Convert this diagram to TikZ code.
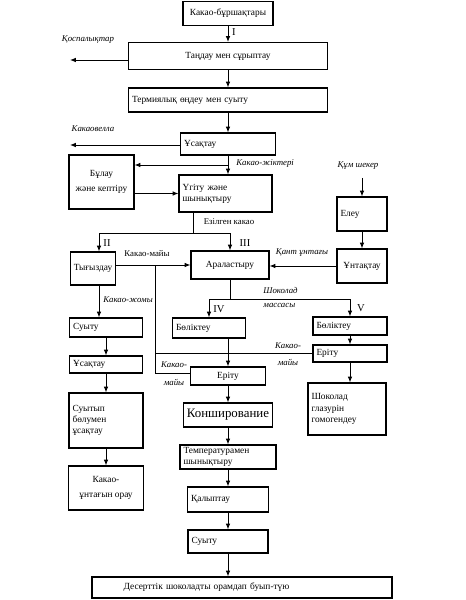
\documentclass[tikz,border=0pt]{standalone}
\usepackage{fontspec}
\setmainfont{Liberation Serif}
\usetikzlibrary{positioning,calc,arrows.meta}
\tikzset{
  wire/.style    = {line width=0.8pt},
  awire/.style   = {line width=0.8pt, -{Latex[length=5pt,width=4pt]}},
  pbox/.code 2 args = {%
    \pgfmathsetlengthmacro\pbw{#1*0.3mm}%
    \pgfmathsetlengthmacro\pbh{#2*0.3mm}%
    \pgfmathsetlengthmacro\pbt{#1*0.3mm-6pt}%
    \tikzset{draw, line width=1pt, fill=white, minimum width=\pbw,
      minimum height=\pbh, inner xsep=3pt, inner ysep=1pt, align=center,
      font=\fontsize{8}{9.5}\selectfont}},
  lft/.style     = {text width=\pbt, align=left},
  lbl/.style     = {font=\fontsize{7.5}{9}\selectfont\itshape, inner sep=1pt},
  lblu/.style    = {font=\fontsize{7.5}{9}\selectfont, inner sep=1pt},
  num/.style     = {font=\fontsize{9}{10}\selectfont, inner sep=1pt},
}

\begin{document}
\begin{tikzpicture}[x=0.3mm,y=-0.3mm]
  \useasboundingbox (0,0) rectangle (465,600);
  % main column
  \node[pbox={90}{24}] (beans) at (228,13.5) {Какао-бұршақтары};
  \node[pbox={199}{27}] (tandau) at (228,56) {Таңдау мен сұрыптау};
  \node[pbox={199}{24},lft] (termiya) at (228,100) {Термиялық өңдеу мен суыту};
  \node[pbox={95}{22},lft] (usaktau1) at (228,144) {Ұсақтау};
  \node[pbox={65}{54}] (bulau) at (101.5,182) {Бұлау\\[4pt]және кептіру};
  \node[pbox={93}{37},lft] (ugitu) at (225.5,193.5) {Үгіту және\\шынықтыру};
  \node[pbox={50}{34},lft] (eleu) at (362,214) {Елеу};
  \node[pbox={50}{34}] (untaktau) at (362,266) {Ұнтақтау};
  \node[pbox={45}{33}] (tygyzdau) at (93,268.5) {Тығыздау};
  \node[pbox={78}{28}] (aralastyru) at (230,265) {Араластыру};
  \node[pbox={73}{19},lft] (suytu1) at (106,327.5) {Суыту};
  \node[pbox={73}{20},lft] (bolikteu1) at (209,328) {Бөліктеу};
  \node[pbox={74}{18},lft] (bolikteu2) at (350,326) {Бөліктеу};
  \node[pbox={73}{17},lft] (usaktau2) at (106,364.5) {Ұсақтау};
  \node[pbox={74}{17},lft] (eritu_r) at (350,353.5) {Еріту};
  \node[pbox={75}{18}] (eritu_c) at (228,376) {Еріту};
  \node[pbox={85}{24},font=\fontsize{11}{13}\selectfont] (konsh) at (228,415) {Конширование};
  \node[pbox={78}{52},lft] (glazur) at (347,409) {Шоколад\\глазурін\\гомогендеу};
  \node[pbox={74}{55},lft] (suytyp) at (106,420.5) {Суытып\\бөлумен\\ұсақтау};
  \node[pbox={96}{24},lft] (temp) at (228,457) {Температурамен\\шынықтыру};
  \node[pbox={75}{44}] (orau) at (106,488) {Какао-\\[3pt]ұнтағын орау};
  \node[pbox={81}{25},lft] (kalyptau) at (228,499.5) {Қалыптау};
  \node[pbox={80}{23},lft] (suytu2) at (228,541.5) {Суыту};
  \node[pbox={300}{21},lft] (final) at (242,587.5) {\hspace{24pt}Десерттік шоколадты орамдап буып-түю};

  % labels
  \node[num] (n1) at (234,32) {I};
  \node[lbl] (implbl) at (88,40) {Қоспалықтар};
  \node[lbl] (vellbl) at (93,129) {Какаовелла};
  \node[lbl,anchor=west] (jklbl) at (235,164) {Какао-жіктері};
  \node[lblu] (ezlbl) at (229,222) {Езілген какао};
  \node[num] (n2) at (107,243) {II};
  \node[num] (n3) at (245,243) {III};
  \node[lblu] (mlbl) at (147,254) {Какао-майы};
  \node[lbl] (kumlbl) at (358,166) {Құм шекер};
  \node[lbl] (kantlbl) at (302,253) {Қант ұнтағы};
  \node[lbl] (zhlbl) at (128,300) {Какао-жомы};
  \node[lbl,anchor=west,align=left] (smlbl) at (262,297.5) {Шоколад\\[3pt]массасы};
  \node[num] (n4) at (219,309) {IV};
  \node[num] (n5) at (361,308) {V};
  \node[lbl,align=center] (mrlbl) at (288,354) {Какао-\\[5pt]майы};
  \node[lbl,align=center] (mclbl) at (174,373.5) {Какао-\\[6pt]майы};

  % connectors
  \coordinate (imp) at (70,60);
  \coordinate (vel) at (70,145);
  \coordinate (jk) at (228,165);
  \coordinate (ez) at (193,233);
  \coordinate (ezL) at (99,233);
  \coordinate (ezR) at (230,233);
  \coordinate (mv) at (155,265);
  \coordinate (mb) at (155,373);
  \coordinate (sm) at (230,299);
  \coordinate (smL) at (209,299);
  \coordinate (smR) at (350,299);
  \coordinate (kum) at (362,178);

  \draw[awire] (beans) -- (tandau);
  \draw[awire] (tandau.west |- imp) -- (imp);
  \draw[awire] (tandau) -- (termiya);
  \draw[awire] (termiya) -- (usaktau1);
  \draw[awire] (usaktau1.west |- vel) -- (vel);
  \draw[awire] (usaktau1.south) -- (usaktau1.south |- ugitu.north);
  \draw[awire] (jk) -- (bulau.east |- jk);
  \draw[awire] (bulau.east |- ugitu.west) -- (ugitu.west);
  \draw[wire] (ugitu.south -| ez) -- (ez);
  \draw[wire] (ezL) -- (ezR);
  \draw[awire] (ezL) -- (ezL |- tygyzdau.north);
  \draw[awire] (ezR) -- (ezR |- aralastyru.north);
  \draw[awire] (tygyzdau.east |- aralastyru.west) -- (aralastyru.west);
  \draw[wire] (mv) -- (mb) -- (mb -| eritu_c.west);
  \draw[wire] (eritu_r.west -| mv) -- (eritu_r.west);
  \draw[awire] (tygyzdau.south -| ezL) -- (suytu1.north -| ezL);
  \draw[awire] (suytu1) -- (usaktau2);
  \draw[awire] (usaktau2) -- (suytyp);
  \draw[awire] (suytyp) -- (orau);
  \draw[wire] (aralastyru.south) -- (sm);
  \draw[wire] (smL) -- (smR);
  \draw[awire] (smL) -- (bolikteu1);
  \draw[awire] (smR) -- (bolikteu2);
  \draw[awire] (kum) -- (eleu);
  \draw[awire] (eleu) -- (untaktau);
  \draw[awire] (untaktau.west) -- (aralastyru.east |- untaktau.west);
  \draw[awire] (bolikteu1.south -| eritu_c) -- (eritu_c);
  \draw[awire] (bolikteu2) -- (eritu_r);
  \draw[awire] (eritu_r.south) -- (eritu_r.south |- glazur.north);
  \draw[awire] (eritu_c) -- (konsh);
  \draw[awire] (konsh) -- (temp);
  \draw[awire] (temp) -- (kalyptau);
  \draw[awire] (kalyptau) -- (suytu2);
  \draw[awire] (suytu2.south) -- (suytu2.south |- final.north);
\end{tikzpicture}
\end{document}
